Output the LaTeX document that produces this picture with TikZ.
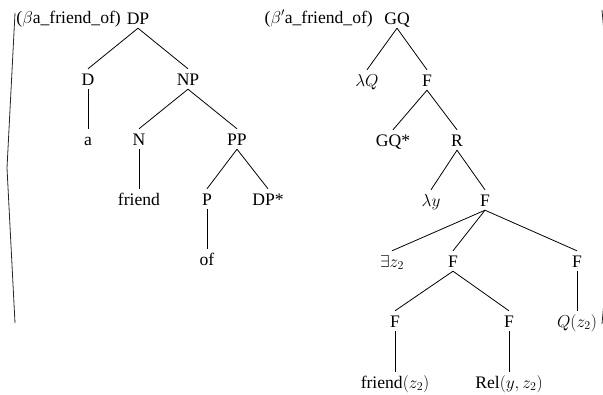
\documentclass[tikz,border=0pt]{standalone}
\usepackage{fontspec}
\setmainfont{Liberation Serif}
\begin{document}
\begin{tikzpicture}[x=1pt,y=-1pt,
  every node/.style={font=\fontsize{17.6}{20}\selectfont},
  tn/.style={inner xsep=1pt,inner ysep=4pt,text height=12pt,text depth=0pt},
  lbl/.style={inner sep=0pt,text height=12pt,text depth=0pt},
  br/.style={line width=0.8pt,black!85},
  edge/.style={line width=0.8pt}]
\useasboundingbox (0,0) rectangle (603,394);
% brackets
\coordinate (lt) at (15,13); \coordinate (la) at (7,168); \coordinate (lb) at (15,323);
\draw[br] (lt) -- (la) -- (lb);
\coordinate (rt) at (602,10); \coordinate (ra) at (616,166); \coordinate (rb) at (602,324);
\draw[br] (rt) -- (ra) -- (rb);
% left tree
\node[lbl,anchor=east] (lab1) at (121,17) {($\beta$a\_friend\_of)};
\node[tn] (DP) at (138,18) {DP};
\node[tn] (D) at (88,79) {D};
\node[tn] (NP) at (188,79) {NP};
\node[tn] (a) at (88,139) {a};
\node[tn] (N) at (139,139) {N};
\node[tn] (PP) at (237,139) {PP};
\node[tn] (friend) at (139,199) {friend};
\node[tn] (P) at (207,199) {P};
\node[tn] (DPs) at (268,199) {DP*};
\node[tn] (of) at (207,259) {of};
\foreach \p/\c in {DP/D,DP/NP,D/a,NP/N,NP/PP,N/friend,PP/P,PP/DPs,P/of}
  \draw[edge] (\p.south) -- (\c.north);
% right tree
\node[lbl,anchor=east] (lab2) at (373,17) {($\beta'$a\_friend\_of)};
\node[tn] (GQ) at (397,18) {GQ};
\node[tn] (lQ) at (367,80) {$\lambda Q$};
\node[tn] (F1) at (427,80) {F};
\node[tn] (GQs) at (393,140) {GQ*};
\node[tn] (R) at (457,140) {R};
\node[tn] (ly) at (431,200) {$\lambda y$};
\node[tn] (F2) at (485,200) {F};
\node[tn] (ez) at (392,261) {$\exists z_2$};
\node[tn] (F3) at (453,261) {F};
\node[tn] (F4) at (577,261) {F};
\node[tn] (F5) at (395,321) {F};
\node[tn] (F6) at (509,321) {F};
\node[tn] (Qz) at (577,321) {$Q(z_2)$};
\node[tn] (fz) at (395,382) {friend$(z_2)$};
\node[tn] (rel) at (509,382) {Rel$(y,z_2)$};
\foreach \p/\c in {GQ/lQ,GQ/F1,F1/GQs,F1/R,R/ly,R/F2,F2/ez,F2/F3,F2/F4,F3/F5,F3/F6,F4/Qz,F5/fz,F6/rel}
  \draw[edge] (\p.south) -- (\c.north);
\end{tikzpicture}
\end{document}
